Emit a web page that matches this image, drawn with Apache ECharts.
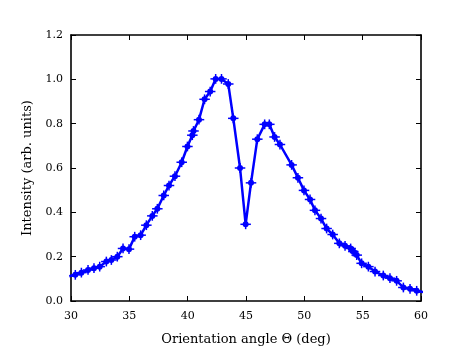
<!DOCTYPE html>
<html>
<head>
<meta charset="utf-8">
<script src="https://cdn.jsdelivr.net/npm/echarts@6/dist/echarts.min.js"></script>
<style>
  html, body { margin: 0; padding: 0; background: #fff; }
  #chart { width: 468px; height: 351px; }
</style>
</head>
<body>
<div id="chart"></div>
<script>
// orientation angle (deg) and intensity (arb. units)
const angles = [
  29.85, 30.37, 30.89, 31.46, 31.97, 32.46, 33.03, 33.46, 33.97, 34.46,
  34.97, 35.46, 35.97, 36.46, 36.97, 37.4, 37.95, 38.4, 38.91, 39.49,
  39.98, 40.4, 40.5, 40.97, 41.45, 41.93, 42.4, 42.9, 43.48, 43.91,
  44.49, 44.97, 45.43, 45.97, 46.6, 47.0, 47.45, 47.91, 48.91, 49.45,
  49.97, 50.49, 50.91, 51.43, 51.91, 52.43, 53.0, 53.49, 53.97, 54.2,
  54.49, 54.91, 55.49, 56.06, 56.77, 57.34, 57.91, 58.49, 59.06, 59.63,
  60.2
]
const intensity = [
  0.112, 0.118, 0.128, 0.140, 0.148, 0.155, 0.178, 0.185, 0.200, 0.237,
  0.234, 0.290, 0.297, 0.342, 0.384, 0.416, 0.476, 0.521, 0.563, 0.626,
  0.697, 0.748, 0.767, 0.818, 0.910, 0.945, 1.002, 1.002, 0.979, 0.824,
  0.600, 0.346, 0.533, 0.730, 0.797, 0.797, 0.740, 0.706, 0.614, 0.556,
  0.499, 0.458, 0.409, 0.372, 0.327, 0.300, 0.260, 0.249, 0.237, 0.223,
  0.207, 0.170, 0.155, 0.133, 0.115, 0.103, 0.091, 0.061, 0.055, 0.046,
  0.040
]
const angleErr = 0.45
const intensityErr = 0.022
const xTicks = [30, 35, 40, 45, 50, 55, 60]
const yTicks = [0, 0.2, 0.4, 0.6, 0.8, 1.0, 1.2]

const BLUE = '#0000ff'
const serif = '"DejaVu Serif", "Liberation Serif", serif'
const points = angles.map((a, i) => [a, intensity[i]])

const chart = echarts.init(document.getElementById('chart'), null, { renderer: 'canvas' })

const axisCommon = {
  axisLine: { show: true, onZero: false, lineStyle: { color: '#000', width: 1.6 } },
  axisTick: { show: true, inside: true, length: 5, lineStyle: { color: '#000', width: 1 } },
  splitLine: { show: false },
}

chart.setOption({
  animation: false,
  grid: { left: 71, right: 47, top: 35, bottom: 47 },
  xAxis: [
    {
      ...axisCommon,
      type: 'value',
      min: xTicks[0], max: xTicks[xTicks.length - 1], interval: 5,
      axisLabel: { fontFamily: serif, fontSize: 11, color: '#000', margin: 10 },
      name: 'Orientation angle Θ (deg)',
      nameLocation: 'middle',
      nameGap: 32,
      nameTextStyle: { fontFamily: serif, fontSize: 13, color: '#000' },
    },
    {
      ...axisCommon,
      type: 'value', position: 'top',
      min: xTicks[0], max: xTicks[xTicks.length - 1], interval: 5,
      axisLabel: { show: false },
    },
  ],
  yAxis: [
    {
      ...axisCommon,
      type: 'value',
      min: yTicks[0], max: yTicks[yTicks.length - 1], interval: 0.2,
      axisLabel: { fontFamily: serif, fontSize: 11, color: '#000', margin: 8, formatter: v => v.toFixed(1) },
      name: 'Intensity (arb. units)',
      nameLocation: 'middle',
      nameGap: 37,
      nameTextStyle: { fontFamily: serif, fontSize: 13, color: '#000' },
    },
    {
      ...axisCommon,
      type: 'value', position: 'right',
      min: yTicks[0], max: yTicks[yTicks.length - 1], interval: 0.2,
      axisLabel: { show: false },
    },
  ],
  series: [
    {
      type: 'line',
      data: points,
      clip: true,
      symbol: 'circle',
      symbolSize: 6,
      showAllSymbol: true,
      lineStyle: { color: BLUE, width: 2.5 },
      itemStyle: { color: BLUE },
      z: 3,
    },
    {
      type: 'custom',
      data: points,
      clip: true,
      z: 2,
      renderItem: (params, api) => {
        const x = api.value(0), y = api.value(1)
        const l = api.coord([x - angleErr, y])
        const r = api.coord([x + angleErr, y])
        const b = api.coord([x, y - intensityErr])
        const t = api.coord([x, y + intensityErr])
        const style = { stroke: BLUE, lineWidth: 1.5 }
        return {
          type: 'group',
          children: [
            { type: 'line', shape: { x1: l[0], y1: l[1], x2: r[0], y2: r[1] }, style },
            { type: 'line', shape: { x1: b[0], y1: b[1], x2: t[0], y2: t[1] }, style },
          ],
        }
      },
    },
  ],
})
</script>
</body>
</html>
